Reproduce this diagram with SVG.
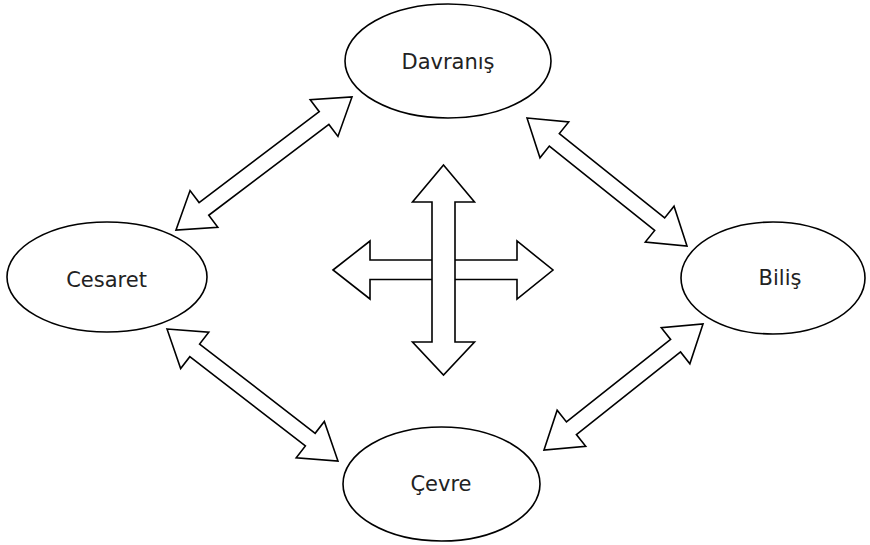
<svg xmlns="http://www.w3.org/2000/svg" width="870" height="545" viewBox="0 0 870 545">
  <style>
    .node { fill: #ffffff; stroke: #000000; stroke-width: 1.6; }
    .arrow { fill: #ffffff; stroke: #000000; stroke-width: 1.6; stroke-linejoin: miter; }
    .label { font-family: "DejaVu Sans", Verdana, sans-serif; font-size: 21px; fill: #222222; text-anchor: middle; }
  </style>
  <rect width="870" height="545" fill="#ffffff"/>

  <g id="connectors">
    <path class="arrow" transform="translate(176,230) rotate(-37.08)" d="M0,0 L35,-23 L35,-8 L185.6,-8 L185.6,-23 L220.6,0 L185.6,23 L185.6,8 L35,8 L35,23 Z"/>
    <path class="arrow" transform="translate(527,118) rotate(38.66)" d="M0,0 L35,-23 L35,-8 L169.9,-8 L169.9,-23 L204.9,0 L169.9,23 L169.9,8 L35,8 L35,23 Z"/>
    <path class="arrow" transform="translate(167,329) rotate(37.67)" d="M0,0 L35,-23 L35,-8 L181,-8 L181,-23 L216,0 L181,23 L181,8 L35,8 L35,23 Z"/>
    <path class="arrow" transform="translate(544,450) rotate(-38.40)" d="M0,0 L35,-23 L35,-8 L167.9,-8 L167.9,-23 L202.9,0 L167.9,23 L167.9,8 L35,8 L35,23 Z"/>
  </g>

  <g id="center-cross">
    <path class="arrow" d="M333,270 L370,241 L370,260 L517,260 L517,241 L553,270 L517,299 L517,279.5 L370,279.5 L370,299 Z"/>
    <path class="arrow" d="M443.5,165 L474.5,202 L455,202 L455,342 L474.5,342 L443.5,375 L412.5,342 L432,342 L432,202 L412.5,202 Z"/>
  </g>

  <g id="node-davranis">
    <ellipse class="node" cx="448" cy="61" rx="103" ry="57"/>
    <text class="label" x="448" y="69">Davranış</text>
  </g>
  <g id="node-cesaret">
    <ellipse class="node" cx="107" cy="277" rx="100" ry="55"/>
    <text class="label" x="106.5" y="287">Cesaret</text>
  </g>
  <g id="node-bilis">
    <ellipse class="node" cx="773" cy="278" rx="92" ry="56"/>
    <text class="label" x="780" y="285">Biliş</text>
  </g>
  <g id="node-cevre">
    <ellipse class="node" cx="441.5" cy="484" rx="98.5" ry="57"/>
    <text class="label" x="441" y="491">Çevre</text>
  </g>
</svg>
